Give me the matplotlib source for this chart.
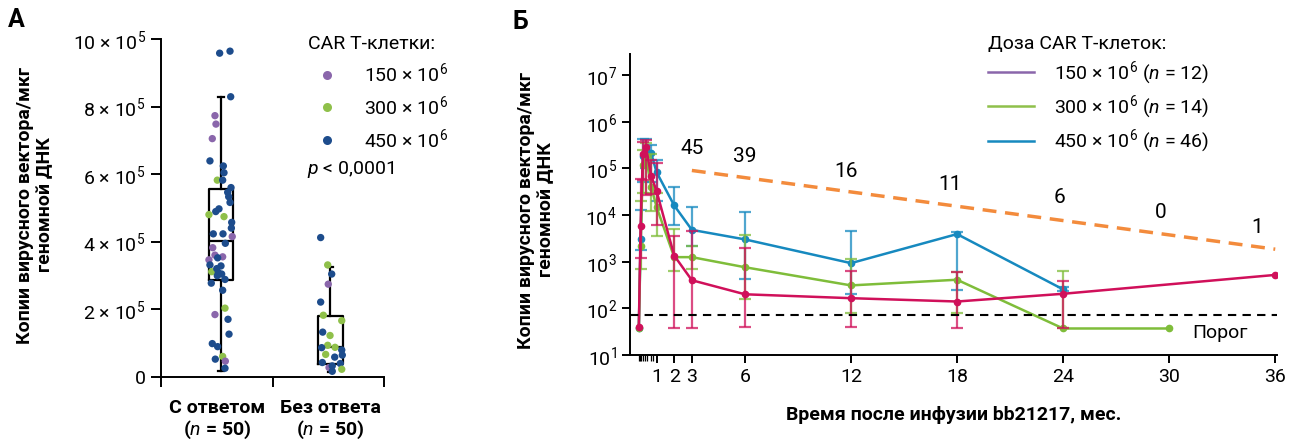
import numpy as np
import matplotlib.pyplot as plt
from matplotlib.lines import Line2D

plt.rcParams['font.family'] = ['Roboto', 'DejaVu Sans']
plt.rcParams['mathtext.fontset'] = 'custom'
plt.rcParams['mathtext.rm'] = 'Roboto'
plt.rcParams['mathtext.it'] = 'Roboto:italic'
plt.rcParams['mathtext.bf'] = 'Roboto:bold'

# ---- панель А: точки (x внутри категории, значение в 10^5, доза) ----
resp_x = [0.526, 0.619, 0.625, 0.484, 0.493, 0.460, 0.439, 0.559, 0.565, 0.505,
          0.553, 0.628, 0.598, 0.607, 0.619, 0.520, 0.491, 0.430, 0.565, 0.634,
          0.631, 0.469, 0.556, 0.639, 0.577, 0.464, 0.484, 0.553, 0.508, 0.430,
          0.439, 0.538, 0.455, 0.514, 0.544, 0.505, 0.574, 0.451, 0.553, 0.574,
          0.484, 0.601, 0.610, 0.460, 0.508, 0.553, 0.487, 0.577, 0.574, 0.500]
resp_y = [9.58, 9.64, 8.29, 7.73, 7.48, 7.05, 6.39, 6.24, 6.04, 5.82,
          5.82, 5.60, 5.46, 5.33, 5.16, 4.97, 4.89, 4.80, 4.74, 4.57,
          4.40, 4.23, 4.23, 4.15, 3.95, 3.82, 3.60, 3.55, 3.52, 3.46,
          3.31, 3.28, 3.11, 3.08, 3.04, 2.99, 2.88, 2.77, 2.56, 2.03,
          1.84, 1.70, 1.26, 0.98, 0.89, 0.60, 0.52, 0.46, 0.25, 3.20]
resp_dose = [450, 450, 450, 150, 150, 150, 450, 450, 450, 300,
             450, 450, 450, 450, 450, 450, 450, 300, 300, 450,
             450, 450, 450, 150, 450, 150, 150, 150, 450, 150,
             450, 450, 300, 450, 450, 450, 450, 450, 450, 300,
             150, 450, 450, 450, 450, 300, 450, 150, 450, 450]

nonresp_x = [1.432, 1.495, 1.531, 1.500, 1.432, 1.456, 1.621, 1.450, 1.516, 1.495, 1.441,
             1.561, 1.621, 1.477, 1.558, 1.626, 1.447, 1.608, 1.507, 1.536, 1.621, 1.536]
nonresp_y = [4.12, 3.31, 3.04, 2.74, 2.21, 1.82, 1.66, 1.32, 1.22, 0.93, 0.86,
             0.87, 0.79, 0.66, 0.58, 0.64, 0.42, 0.39, 0.27, 0.32, 0.22, 0.16]
nonresp_dose = [450, 300, 450, 150, 450, 300, 300, 450, 300, 300, 450,
                300, 450, 300, 450, 450, 450, 450, 150, 450, 300, 450]

# квартильные ящики (10^5)
box_pos = [0.538, 1.520]
box_q1 = [2.86, 0.375]
box_med = [4.03, 0.87]
box_q3 = [5.56, 1.80]
box_lo = [0.18, 0.15]
box_hi = [8.29, 3.26]

dot_colors = {150: '#8a66ab', 300: '#8fc04a', 450: '#1d4c8c'}

# ---- панель Б: кинетика ----
t_150 = [0, 0.1, 0.23, 0.4, 0.7, 1, 2, 3, 6, 12, 18, 24, 36]
v_150 = [40, 5800, 2.0e5, 2.9e5, 6.8e4, 3.3e4, 1350, 400, 200, 165, 140, 205, 520]
lo_150 = [np.nan, 1200, 5.6e4, 2.7e4, 2.8e4, 6000, 38, 38, 40, 40, 38, 38, np.nan]
hi_150 = [np.nan, 6.0e4, 3.7e5, 4.0e5, 1.5e5, 1.3e5, 3500, 4500, 2000, 620, 610, 380, np.nan]

t_300 = [0, 0.1, 0.23, 0.4, 0.7, 1, 2, 3, 6, 12, 18, 24, 30]
v_300 = [38, 2200, 1.2e5, 1.8e5, 4.0e4, 1.5e4, 1250, 1250, 760, 310, 410, 37, 37]
lo_300 = [np.nan, 700, 3.0e4, 3.0e4, 1.2e4, 3600, 620, 700, 160, 80, 80, 37, np.nan]
hi_300 = [np.nan, 2.0e4, 2.5e5, 3.5e5, 2.0e5, 2.9e4, 4900, 2200, 3700, 1160, 600, 640, np.nan]

t_450 = [0, 0.1, 0.23, 0.4, 0.7, 1, 2, 3, 6, 12, 18, 24]
v_450 = [38, 3000, 1.8e5, 2.5e5, 2.1e5, 8.3e4, 1.6e4, 4800, 3000, 930, 3900, 255]
lo_450 = [np.nan, 1800, 5.0e4, 1.0e5, 5.0e4, 2.0e4, 6000, 2200, 430, 200, 250, 240]
hi_450 = [np.nan, 1.3e4, 4.2e5, 4.2e5, 3.2e5, 1.5e5, 3.9e4, 1.45e4, 1.15e4, 4600, 4300, 280]

n_at_risk = ['45', '39', '16', '11', '6', '0', '1']
n_t = [3.0, 6.0, 11.7, 17.6, 23.8, 29.5, 35.0]
n_y = [2.7e5, 1.75e5, 8.7e4, 4.4e4, 2.4e4, 1.15e4, 5500]
trend_t = [3, 36]
trend_v = [9.0e4, 1.85e3]
threshold = 72

line_col = {150: '#d0105a', 300: '#7fbd3a', 450: '#1689bf'}
leg_col = {150: '#8a66ab', 300: '#8fc04a', 450: '#1689bf'}

fig = plt.figure(figsize=(12.96, 4.44), dpi=100)

# ================= А =================
ax = fig.add_axes([161 / 1296, 1 - 376.7 / 444, 223 / 1296, 337.7 / 444])
stats = []
for i in range(2):
    stats.append(dict(med=box_med[i], q1=box_q1[i], q3=box_q3[i],
                      whislo=box_lo[i], whishi=box_hi[i], fliers=[]))
lp = dict(color='black', linewidth=1.6)
ax.bxp(stats, positions=box_pos, widths=[0.215, 0.224], showfliers=False,
       boxprops=lp, medianprops=lp, whiskerprops=lp, capprops=lp,
       capwidths=0.05, manage_ticks=False)
ax.scatter(resp_x, resp_y, s=28, c=[dot_colors[d] for d in resp_dose], zorder=3, linewidths=0)
ax.scatter(nonresp_x, nonresp_y, s=28, c=[dot_colors[d] for d in nonresp_dose], zorder=3, linewidths=0)

ax.set_xlim(0, 2)
ax.set_ylim(0, 10)
for s in ['top', 'right']:
    ax.spines[s].set_visible(False)
for s in ['left', 'bottom']:
    ax.spines[s].set_linewidth(1.4)
ax.set_yticks([0, 2, 4, 6, 8, 10])
ax.set_yticklabels(['0', '2 × 10$^5$', '4 × 10$^5$', '6 × 10$^5$', '8 × 10$^5$', '10 × 10$^5$'],
                   fontsize=14)
ax.tick_params(axis='y', length=7, width=1.4, pad=4)
ax.set_xticks([0, 1, 2])
ax.set_xticklabels([])
ax.tick_params(axis='x', length=7, width=1.4)
ax.text(0.5, -0.065, 'С ответом\n($\\mathbf{\\it{n}}$ = 50)', transform=ax.get_xaxis_transform(),
        ha='center', va='top', fontsize=14, fontweight='bold', linespacing=1.15)
ax.text(1.52, -0.065, 'Без ответа\n($\\mathbf{\\it{n}}$ = 50)', transform=ax.get_xaxis_transform(),
        ha='center', va='top', fontsize=14, fontweight='bold', linespacing=1.15)
fig.text(35 / 1296, 1 - 205 / 444, 'Копии вирусного вектора/мкг\nгеномной ДНК', rotation=90,
         ha='center', va='center', fontsize=14, fontweight='bold', linespacing=1.2)
fig.text(8 / 1296, 1 - 20 / 444, 'А', fontsize=18, fontweight='bold', va='center')

h_a = [Line2D([], [], marker='o', linestyle='', markersize=6.5, markeredgewidth=0,
              color=dot_colors[d]) for d in [150, 300, 450]]
fig.legend(h_a, ['150 × 10$^6$', '300 × 10$^6$', '450 × 10$^6$'], title='CAR T-клетки:',
           loc='upper left', bbox_to_anchor=(300 / 1296, 1 - 27 / 444), frameon=False,
           fontsize=14, title_fontsize=14, alignment='left', handletextpad=0.9,
           labelspacing=0.45, borderaxespad=0)
fig.text(307 / 1296, 1 - 169 / 444, '$\\it{p}$ < 0,0001', fontsize=14, va='center')

# ================= Б =================
bx = fig.add_axes([630 / 1296, 1 - 355 / 444, 647 / 1296, 301 / 444])
series = [(150, t_150, v_150, lo_150, hi_150), (300, t_300, v_300, lo_300, hi_300),
          (450, t_450, v_450, lo_450, hi_450)]
for dose, t, v, lo, hi in [series[2], series[1], series[0]]:
    v = np.array(v)
    yerr = [v - np.array(lo), np.array(hi) - v]
    bx.errorbar(t, v, yerr=yerr, fmt='none', ecolor=line_col[dose], alpha=0.75,
                elinewidth=1.6, capsize=4, capthick=1.6)
    bx.plot(t, v, color=line_col[dose], linewidth=1.8, marker='o', markersize=4.5)

bx.axhline(threshold, color='black', linestyle=(0, (4, 3)), linewidth=1.5)
bx.plot(trend_t, trend_v, color='#f38b3c', linestyle=(0, (4, 2.5)), linewidth=2.5)
for lab, tt, yy in zip(n_at_risk, n_t, n_y):
    bx.text(tt, yy, lab, ha='center', va='center', fontsize=15)
bx.text(31.3, 30, 'Порог', ha='left', va='center', fontsize=14)

bx.set_yscale('log')
bx.set_ylim(10, 10 ** 7.45)
bx.set_xlim(-0.5, 36.1)
bx.set_yticks([10 ** k for k in range(1, 8)])
bx.set_yticklabels(['10$^{%d}$' % k for k in range(1, 8)], fontsize=14)
bx.yaxis.set_minor_locator(plt.NullLocator())
bx.set_xticks([1, 2, 3, 6, 12, 18, 24, 30, 36])
bx.set_xticklabels(['1', '2', '3', '6', '12', '18', '24', '30', '36'], fontsize=14)
bx.set_xticks([0, 0.07, 0.13, 0.23, 0.33, 0.46, 0.69, 0.8], minor=True)
bx.tick_params(axis='x', which='minor', length=4, width=0.9)
bx.tick_params(axis='both', which='major', length=6, width=1.4)
for s in ['top', 'right']:
    bx.spines[s].set_visible(False)
for s in ['left', 'bottom']:
    bx.spines[s].set_linewidth(1.4)
bx.set_xlabel('Время после инфузии bb21217, мес.', fontsize=14, fontweight='bold', labelpad=14)
fig.text(536 / 1296, 1 - 210 / 444, 'Копии вирусного вектора/мкг\nгеномной ДНК', rotation=90,
         ha='center', va='center', fontsize=14, fontweight='bold', linespacing=1.2)
fig.text(512 / 1296, 1 - 22 / 444, 'Б', fontsize=18, fontweight='bold', va='center')

h_b = [Line2D([], [], color=leg_col[d], linewidth=1.8) for d in [150, 300, 450]]
fig.legend(h_b, ['150 × 10$^6$ ($\\it{n}$ = 12)', '300 × 10$^6$ ($\\it{n}$ = 14)',
                 '450 × 10$^6$ ($\\it{n}$ = 46)'], title='Доза CAR T-клеток:',
           loc='upper left', bbox_to_anchor=(980 / 1296, 1 - 27 / 444), frameon=False,
           fontsize=14, title_fontsize=14, alignment='left', handlelength=2.4,
           handletextpad=1.0, labelspacing=0.35, borderaxespad=0)

fig.savefig('out.png', dpi=100)
